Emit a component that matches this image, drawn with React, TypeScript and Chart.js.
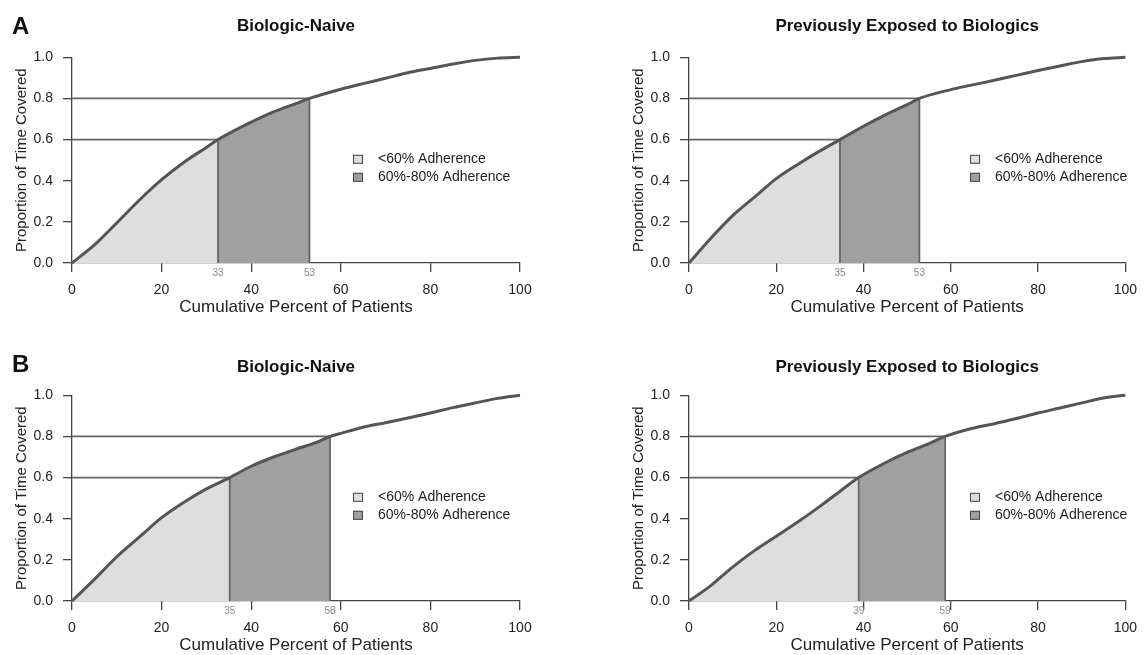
import React, { useEffect, useRef } from "react";
import { Chart, registerables } from "chart.js";

Chart.register(...registerables);

const FONT = '"Liberation Sans", Arial, Helvetica, sans-serif';

// Axis ticks and labels
const xTicks = [0, 20, 40, 60, 80, 100];
const yTicks = [0, 0.2, 0.4, 0.6, 0.8, 1.0];
const thresholds = [0.6, 0.8];
const legendLabels = ["<60% Adherence", "60%-80% Adherence"];
const panelTitles = ["Biologic-Naive", "Previously Exposed to Biologics"];
const sectionLabels = ["A", "B"];
const xTitle = "Cumulative Percent of Patients";
const yTitle = "Proportion of Time Covered";

// Panel A – Biologic-Naive
const naiveA_x = [0, 5, 10, 15, 20, 25, 30, 32.6, 40, 45, 50, 53, 60, 65, 70, 75, 80, 85, 90, 95, 100];
const naiveA_y = [0, 0.088, 0.195, 0.305, 0.405, 0.49, 0.562, 0.6, 0.685, 0.735, 0.775, 0.8, 0.845, 0.872, 0.898, 0.925, 0.946, 0.967, 0.985, 0.996, 1.0];
const naiveA_cuts = [32.6, 53.0];

// Panel A – Previously Exposed to Biologics
const exposedA_x = [0, 5, 10, 15, 20, 25, 30, 34.6, 40, 45, 50, 52.8, 60, 65, 70, 75, 80, 85, 90, 95, 100];
const exposedA_y = [0, 0.12, 0.23, 0.32, 0.41, 0.48, 0.545, 0.6, 0.665, 0.72, 0.77, 0.8, 0.843, 0.866, 0.888, 0.912, 0.936, 0.958, 0.979, 0.994, 1.0];
const exposedA_cuts = [34.6, 52.8];

// Panel B – Biologic-Naive
const naiveB_x = [0, 5, 10, 15, 20, 25, 30, 35.2, 40, 45, 50, 55, 57.6, 60, 65, 70, 75, 80, 85, 90, 95, 100];
const naiveB_y = [0, 0.105, 0.215, 0.31, 0.405, 0.48, 0.545, 0.6, 0.655, 0.7, 0.738, 0.775, 0.8, 0.815, 0.845, 0.867, 0.89, 0.914, 0.94, 0.963, 0.985, 1.0];
const naiveB_cuts = [35.2, 57.6];

// Panel B – Previously Exposed to Biologics
const exposedB_x = [0, 5, 10, 15, 20, 25, 30, 35, 38.9, 45, 50, 55, 58.7, 65, 70, 75, 80, 85, 90, 95, 100];
const exposedB_y = [0, 0.075, 0.165, 0.245, 0.315, 0.385, 0.46, 0.54, 0.6, 0.672, 0.722, 0.765, 0.8, 0.84, 0.862, 0.887, 0.914, 0.938, 0.963, 0.987, 1.0];
const exposedB_cuts = [38.9, 58.7];

const FILLS = ["#dedede", "#a0a0a0"];
const CANVAS_H = 327;

type PanelProps = {
  xs: number[];
  ys: number[];
  cuts: number[];
  title: string;
  section?: string;
  left: number;
  top: number;
  width: number;
  padRight: number;
  titleGap: number;
};

function Panel(p: PanelProps) {
  const ref = useRef<HTMLCanvasElement>(null);

  useEffect(() => {
    const canvas = ref.current;
    if (!canvas) return;
    const curve = p.xs.map((x, i) => ({ x, y: p.ys[i] }));

    const segColor = (ctx: any) => {
      const x0 = ctx.p0.parsed.x;
      if (x0 < p.cuts[0] - 1e-9) return FILLS[0];
      if (x0 < p.cuts[1] - 1e-9) return FILLS[1];
      return "rgba(0,0,0,0)";
    };

    const refSets = p.cuts.map((c, i) => ({
      data: [
        { x: 0, y: thresholds[i] },
        { x: c, y: thresholds[i] },
        { x: c, y: 0 },
      ],
      borderColor: "#666666",
      borderWidth: 1.8,
      pointRadius: 0,
      fill: false,
      tension: 0,
      order: 1,
      clip: false as any,
    }));

    const textPlugin = {
      id: "panelText",
      afterDraw(chart: any) {
        const ctx = chart.ctx;
        const ca = chart.chartArea;
        const xs = chart.scales.x;
        ctx.save();
        ctx.fillStyle = "#111";
        ctx.font = `bold 17px ${FONT}`;
        ctx.textAlign = "center";
        ctx.textBaseline = "middle";
        ctx.fillText(p.title, (ca.left + ca.right) / 2, ca.top - p.titleGap);
        if (p.section) {
          ctx.font = `bold 24px ${FONT}`;
          ctx.textAlign = "left";
          ctx.fillText(p.section, 12, 27);
        }
        ctx.font = `10px ${FONT}`;
        ctx.fillStyle = "#8a8a8a";
        ctx.textAlign = "center";
        p.cuts.forEach((c) => {
          ctx.fillText(String(Math.round(c)), xs.getPixelForValue(c), ca.bottom + 10);
        });
        const bx = ca.left + 281;
        legendLabels.forEach((lab, i) => {
          const cy = ca.top + 102 + i * 18;
          ctx.fillStyle = FILLS[i];
          ctx.fillRect(bx, cy - 4.5, 10, 9);
          ctx.strokeStyle = "#444";
          ctx.lineWidth = 1;
          ctx.strokeRect(bx + 0.5, cy - 4, 9, 8);
          ctx.fillStyle = "#222";
          ctx.font = `14px ${FONT}`;
          ctx.textAlign = "left";
          ctx.fillText(lab, bx + 25, cy);
        });
        ctx.restore();
      },
    };

    const chart = new Chart(canvas, {
      type: "line",
      data: {
        datasets: [
          {
            data: curve,
            borderColor: "#555555",
            borderWidth: 3,
            pointRadius: 0,
            fill: "origin",
            backgroundColor: FILLS[0],
            segment: { backgroundColor: segColor },
            cubicInterpolationMode: "monotone",
            order: 0,
            clip: false as any,
          } as any,
          ...(refSets as any[]),
        ],
      },
      options: {
        animation: false,
        responsive: false,
        maintainAspectRatio: false,
        layout: { padding: { left: 0, top: 57.3, right: p.padRight, bottom: 0 } },
        plugins: {
          legend: { display: false },
          tooltip: { enabled: false },
          filler: { drawTime: "beforeDatasetsDraw" } as any,
        },
        events: [],
        scales: {
          x: {
            type: "linear",
            min: 0,
            max: 100,
            afterBuildTicks: (s: any) => {
              s.ticks = xTicks.map((v) => ({ value: v }));
            },
            afterFit: (s: any) => {
              s.height = 64;
            },
            ticks: {
              font: { family: FONT, size: 14 },
              color: "#222",
              padding: 10,
              maxRotation: 0,
              autoSkip: false,
              callback: (v: any) => String(v),
            },
            grid: { drawOnChartArea: false, drawTicks: true, tickLength: 9, color: "#444", lineWidth: 1.3 },
            border: { display: true, color: "#444", width: 1.3 },
            title: {
              display: true,
              text: xTitle,
              font: { family: FONT, size: 17 },
              color: "#222",
              padding: { top: 0, bottom: 9 },
            },
          },
          y: {
            type: "linear",
            min: 0,
            max: 1,
            afterBuildTicks: (s: any) => {
              s.ticks = yTicks.map((v) => ({ value: v }));
            },
            afterFit: (s: any) => {
              s.width = 72;
            },
            ticks: {
              font: { family: FONT, size: 14 },
              color: "#222",
              padding: 10,
              autoSkip: false,
              callback: (v: any) => Number(v).toFixed(1),
            },
            grid: { drawOnChartArea: false, drawTicks: true, tickLength: 9, color: "#444", lineWidth: 1.3 },
            border: { display: true, color: "#444", width: 1.3 },
            title: {
              display: true,
              text: yTitle,
              font: { family: FONT, size: 15 },
              color: "#222",
              padding: { top: 13, bottom: 0 },
            },
          },
        },
      },
      plugins: [textPlugin],
    });
    return () => chart.destroy();
  }, []);

  return (
    <canvas
      ref={ref}
      width={p.width}
      height={CANVAS_H}
      style={{ position: "absolute", left: p.left, top: p.top, width: p.width, height: CANVAS_H, display: "block" }}
    />
  );
}

export default function App() {
  return (
    <div
      style={{
        position: "absolute",
        left: 0,
        top: 0,
        width: 1147,
        height: 655,
        overflow: "hidden",
        background: "#fff",
      }}
    >
      <Panel xs={naiveA_x} ys={naiveA_y} cuts={naiveA_cuts} title={panelTitles[0]} section={sectionLabels[0]} left={0} top={0} width={573} padRight={53} titleGap={31} />
      <Panel xs={exposedA_x} ys={exposedA_y} cuts={exposedA_cuts} title={panelTitles[1]} left={617} top={0} width={530} padRight={12.3} titleGap={31} />
      <Panel xs={naiveB_x} ys={naiveB_y} cuts={naiveB_cuts} title={panelTitles[0]} section={sectionLabels[1]} left={0} top={338} width={573} padRight={53} titleGap={28} />
      <Panel xs={exposedB_x} ys={exposedB_y} cuts={exposedB_cuts} title={panelTitles[1]} left={617} top={338} width={530} padRight={12.3} titleGap={28} />
    </div>
  );
}
